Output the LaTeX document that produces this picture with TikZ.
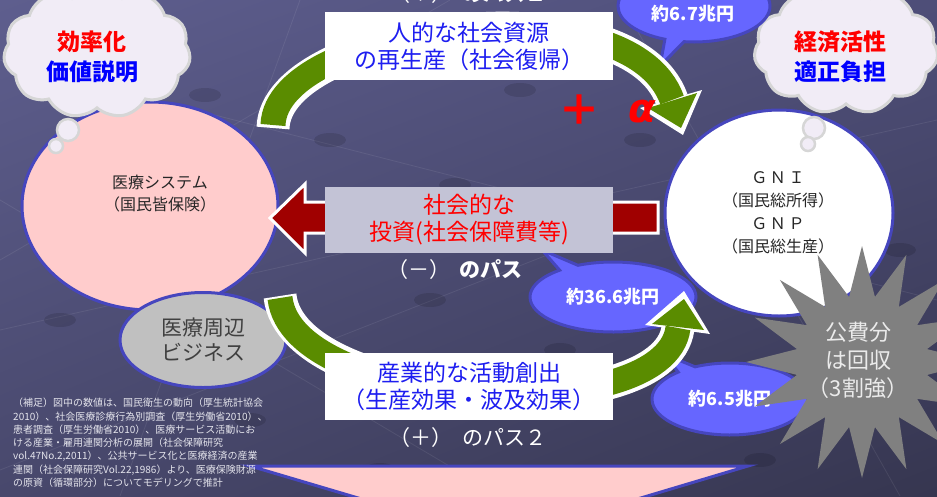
\documentclass[tikz,border=0pt]{standalone}
\usepackage{fontspec}
\setmainfont{Noto Sans CJK JP}
\newfontfamily\dejavu{DejaVu Sans}
\usetikzlibrary{shapes.geometric,shapes.symbols,shapes.callouts,shadings}
\definecolor{bgTL}{HTML}{5E5E8E}
\definecolor{bgTR}{HTML}{4E4E78}
\definecolor{bgBL}{HTML}{48486C}
\definecolor{bgBR}{HTML}{363650}
\definecolor{ringB}{HTML}{4646BE}
\definecolor{pinkF}{HTML}{FFCCCC}
\definecolor{grayF}{HTML}{C0C0C0}
\definecolor{cloudF}{HTML}{F1ECF6}
\definecolor{cloudD}{HTML}{D6D6D6}
\definecolor{bandG}{HTML}{5A8C00}
\definecolor{darkR}{HTML}{A00000}
\definecolor{boxG}{HTML}{C3C3D6}
\definecolor{txtB}{HTML}{1E1EF0}
\definecolor{bubF}{HTML}{6666FF}
\definecolor{starF}{HTML}{808080}
\definecolor{noteC}{HTML}{E4E4EC}
\tikzset{
  ring/.style={ellipse, draw=ringB, line width=3pt, inner sep=0pt},
  cloudbox/.style={cloud, cloud puffs=11, cloud puff arc=105, aspect=1.45, fill=cloudF, draw=cloudD, line width=3pt, inner sep=0pt},
  thought/.style={circle, fill=cloudF, draw=cloudD, line width=2.5pt, inner sep=0pt},
  labelbox/.style={fill=white, minimum width=288pt, inner sep=0pt, align=center, text=txtB, font=\fontsize{23}{27}\selectfont},
  bubble/.style={ellipse callout, fill=bubF, draw=ringB, line width=3pt, inner sep=0pt, text=white, font=\bfseries\fontsize{18}{20}\selectfont},
  pathlabel/.style={text=white, font=\fontsize{21}{24}\selectfont, inner sep=0pt},
}
\begin{document}
\begin{tikzpicture}[x=1pt,y=-1pt]
\useasboundingbox (0,0) rectangle (937,496);
\clip (0,0) rectangle (937,496);
% background
\shade[upper left=bgTL, upper right=bgTR, lower left=bgBL, lower right=bgBR] (0,0) rectangle (937,496);
\foreach \a/\b/\c/\d in {0/330/937/120, 0/60/937/300, 0/470/560/250, 300/0/120/496, 620/0/900/496, 0/200/500/496, 450/0/0/260}
  \draw[white, opacity=0.08, line width=0.8pt] (\a,\b) -- (\c,\d);
\foreach \x/\y in {95/48, 205/95, 330/140, 455/185, 580/230, 705/270, 820/205, 150/215, 60/320, 430/300, 560/350, 690/390, 900/250, 250/420, 380/470, 760/460, 520/90, 640/140}
  \fill[black, opacity=0.12] (\x,\y) ellipse (16pt and 7pt);

% main ellipses
\node[ring, fill=pinkF, minimum width=256pt, minimum height=208pt] (med) at (150,206) {};
\node[align=center, font=\fontsize{16}{22}\selectfont, text=black!85] (medt) at (160,194) {医療システム\\（国民皆保険）};
\node[ring, fill=grayF, minimum width=166pt, minimum height=95pt] (biz) at (203,340) {};
\node[align=center, font=\fontsize{21}{25}\selectfont, text=black!75] (bizt) at (203,340) {医療周辺\\ビジネス};
\node[ring, fill=white, minimum width=228pt, minimum height=206pt] (gni) at (779,213) {};
\node[align=center, font=\fontsize{16}{23}\selectfont, text=black!85] (gnit) at (778,213) {Ｇ\,Ｎ\,Ｉ\\（国民総所得）\\Ｇ\,Ｎ\,Ｐ\\（国民総生産）};

% clouds
\node[cloudbox, minimum width=187pt, minimum height=132pt] (cl) at (97,52) {};
\node[thought, minimum size=22pt] (clb1) at (68,130) {};
\node[thought, minimum size=14pt] (clb2) at (56,146) {};
\node[align=center, font=\bfseries\fontsize{23}{30}\selectfont] (clt) at (92,57) {\textcolor{red}{効率化}\\\textcolor{blue}{価値説明}};
\node[cloudbox, minimum width=184pt, minimum height=128pt] (cr) at (846,50) {};
\node[thought, minimum size=22pt] (crb1) at (814,128) {};
\node[thought, minimum size=14pt] (crb2) at (808,144) {};
\node[align=center, font=\bfseries\fontsize{23}{30}\selectfont] (crt) at (840,57) {\textcolor{red}{経済活性}\\\textcolor{blue}{適正負担}};

% bubbles
\node[bubble, minimum width=152pt, minimum height=72pt, callout absolute pointer={(660,66)}] (b67) at (694,6) {};
\node[text=white, font=\bfseries\fontsize{18}{20}\selectfont] (b67t) at (693,14) {約6.7兆円};
\node[bubble, minimum width=166pt, minimum height=70pt, callout absolute pointer={(542,250)}] (b366) at (613,297) {約36.6兆円};
\node[bubble, minimum width=156pt, minimum height=72pt, callout absolute pointer={(664,354)}] (b65) at (730,399) {約6.5兆円};

% star
\node[star, star points=16, star point ratio=1.75, minimum size=232pt, fill=starF, inner sep=0pt] (star) at (862,362) {};
\node[align=center, text=white!92!black, font=\fontsize{22}{28}\selectfont] (start) at (858,360) {公費分\\は回収\\（3割強）};

% top green arrow
\draw[white, line width=33pt] (273,128) .. controls (276,25) and (630,-20) .. (672,100);
\fill[white] (702,90) -- (683,135) -- (640,108) -- cycle;
\fill[bandG] (697,93) -- (681,128) -- (648,108) -- cycle;
\draw[bandG, line width=25pt] (273,125) .. controls (276,25) and (630,-20) .. (672,100);

% bottom green arrow
\draw[white, line width=33pt] (280,296) .. controls (292,410) and (665,430) .. (678,328);
\fill[white] (710,334) -- (684,291) -- (645,325) -- cycle;
\fill[bandG] (704,330) -- (684,299) -- (652,324) -- cycle;
\draw[bandG, line width=25pt] (280,298) .. controls (292,410) and (665,430) .. (678,328);

% dark red arrow
\draw[white, line width=3pt, fill=darkR] (270,218) -- (305,184) -- (305,202) -- (658,202) -- (658,233) -- (305,233) -- (305,253) -- cycle;

% label boxes
\node[labelbox, minimum height=68pt] (topbox) at (469,46) {人的な社会資源\\の再生産（社会復帰）};
\node[labelbox, fill=boxG, text=red, minimum height=66pt] (midbox) at (469,220) {社会的な\\投資(社会保障費等)};
\node[labelbox, minimum height=67pt] (botbox) at (469,386) {産業的な活動創出\\（生産効果・波及効果）};

% path labels
\node[pathlabel] (p1) at (468,-6) {（＋）\ \ \textbf{のパス１}};
\node[pathlabel] (p0) at (455,270) {（－）\ \ \textbf{のパス}};
\node[pathlabel] (p2) at (468,438) {（＋）\ \ のパス２};

% plus alpha
\node[text=red, font=\bfseries\fontsize{42}{42}\selectfont] (plus) at (579,110) {＋};
\node[text=red, font=\dejavu\bfseries\itshape\fontsize{40}{40}\selectfont] (alpha) at (642,112) {α};

% bottom pink arrow
\draw[ringB, line width=3pt, fill=pinkF] (250,466) -- (748,466) -- (500,540) -- cycle;

% footnote
\node[anchor=north west, align=left, text=noteC, inner sep=0pt, font=\fontsize{10}{13.3}\selectfont] (note) at (13,398) {（補足）図中の数値は、国民衛生の動向（厚生統計協会\\2010）、社会医療診療行為別調査（厚生労働省2010）、\\患者調査（厚生労働省2010）、医療サービス活動にお\\ける産業・雇用連関分析の展開（社会保障研究\\vol.47No.2,2011）、公共サービス化と医療経済の産業\\連関（社会保障研究Vol.22,1986）より、医療保険財源\\の原資（循環部分）についてモデリングで推計};
\end{tikzpicture}
\end{document}
